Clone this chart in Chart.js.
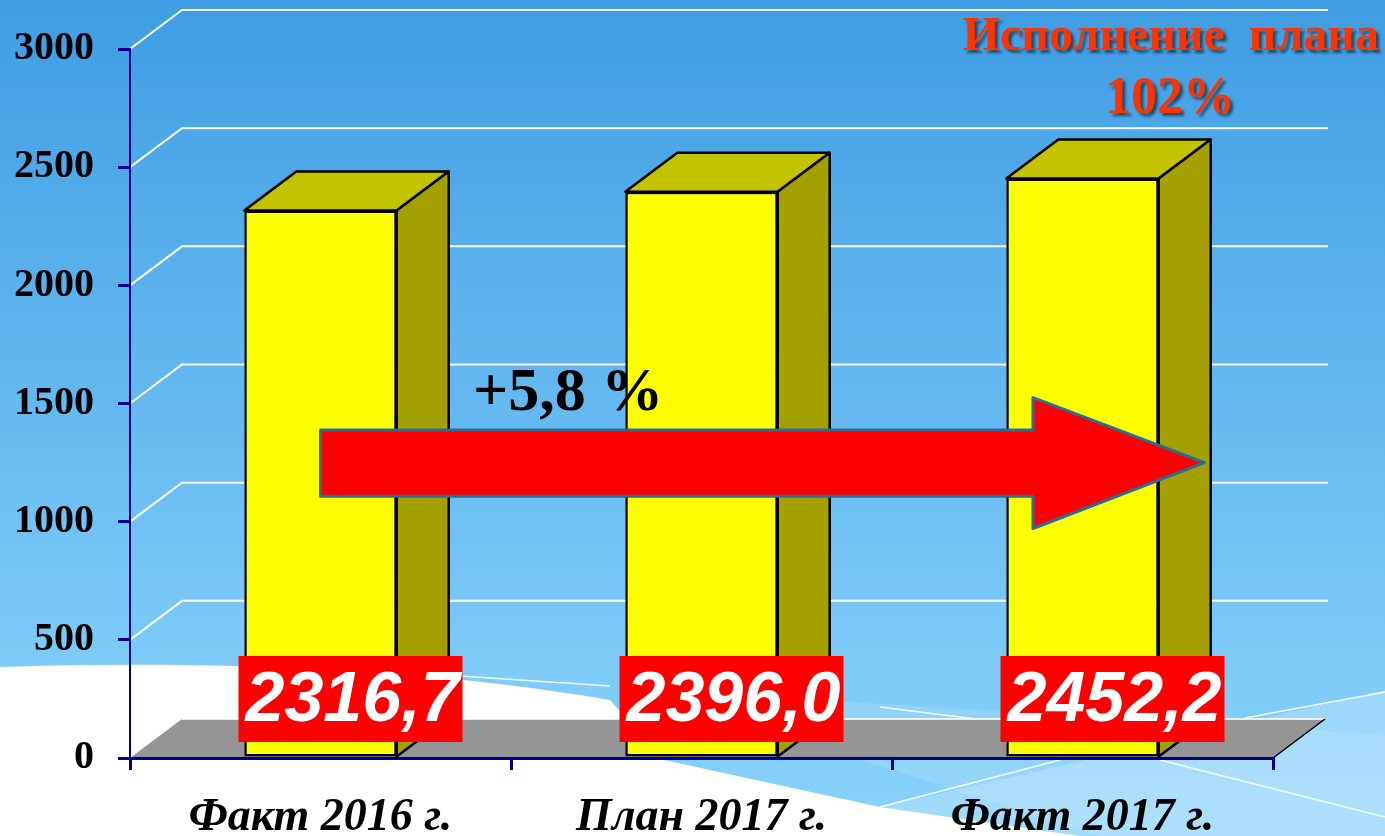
<!DOCTYPE html>
<html>
<head>
<meta charset="utf-8">
<script src="https://cdn.jsdelivr.net/npm/chart.js@4"></script>
<style>
  html, body { margin: 0; padding: 0; background: #3e9de3; }
  canvas { display: block; }
</style>
</head>
<body>
<canvas id="chart" width="1385" height="836"></canvas>
<script>
const categories = ['Факт 2016 г.', 'План 2017 г.', 'Факт 2017 г.'];
const values     = [2316.7, 2396.0, 2452.2];
const yTicks     = [0, 500, 1000, 1500, 2000, 2500, 3000];

// arrow and growth note, in chart units: [category index, value]
const arrowTail     = [0, 1248];
const arrowHeadBase = [1.87, 1248];
const arrowTip      = [2.32, 1250];
const arrowBodyHalf = 140;
const arrowHeadHalf = 277;
const growthAt      = [0.65, 1471];

const DX = 52, DY = -39;   // depth of the 3d box
const serif = "'Liberation Serif', 'Times New Roman', serif";
const sans  = "'Liberation Sans', Arial, sans-serif";

function poly(ctx, pts, fill, stroke, lw) {
  ctx.beginPath();
  pts.forEach((p, i) => i ? ctx.lineTo(p[0], p[1]) : ctx.moveTo(p[0], p[1]));
  ctx.closePath();
  if (fill) { ctx.fillStyle = fill; ctx.fill(); }
  if (stroke) { ctx.strokeStyle = stroke; ctx.lineWidth = lw || 1; ctx.stroke(); }
}

function line(ctx, pts, color, lw) {
  ctx.beginPath();
  pts.forEach((p, i) => i ? ctx.lineTo(p[0], p[1]) : ctx.moveTo(p[0], p[1]));
  ctx.strokeStyle = color;
  ctx.lineWidth = lw;
  ctx.stroke();
}

const scene = {
  id: 'scene',
  beforeDraw(chart) {
    const { ctx, width, height, scales: { x, y } } = chart;
    ctx.save();

    // slide background
    const g = ctx.createLinearGradient(0, 0, 0, height);
    g.addColorStop(0, '#3f9de3');
    g.addColorStop(0.8, '#7ecbf9');
    g.addColorStop(1, '#88d2fb');
    ctx.fillStyle = g;
    ctx.fillRect(0, 0, width, height);

    poly(ctx, [[880, 807], [1100, 757], [1385, 690], [1385, 836], [1080, 836]], 'rgba(255,255,255,0.22)');
    poly(ctx, [[640, 690], [900, 705], [1385, 735], [1385, 836], [1100, 836]], 'rgba(255,255,255,0.12)');

    ctx.beginPath();
    ctx.moveTo(0, 667);
    ctx.bezierCurveTo(200, 660, 430, 668, 610, 700);
    ctx.lineTo(664, 760);
    ctx.lineTo(880, 807);
    ctx.lineTo(1080, 836);
    ctx.lineTo(0, 836);
    ctx.closePath();
    ctx.fillStyle = '#ffffff';
    ctx.fill();

    line(ctx, [[880, 707], [1000, 722]], 'rgba(255,255,255,0.9)', 1.5);
    line(ctx, [[880, 807], [1060, 760]], 'rgba(255,255,255,0.9)', 1.5);
    line(ctx, [[1160, 760], [1385, 817]], 'rgba(255,255,255,0.9)', 1.5);
    line(ctx, [[1245, 718], [1385, 692]], 'rgba(255,255,255,0.9)', 1.5);
    line(ctx, [[460, 676], [610, 686]], 'rgba(255,255,255,0.9)', 1.5);

    // back wall grid lines
    yTicks.forEach(v => {
      if (v === 0) return;
      const py = y.getPixelForValue(v);
      line(ctx, [[x.left, py], [x.left + DX, py + DY], [x.right + DX + 3, py + DY]], '#ffffff', 2);
    });

    // floor
    const y0 = y.getPixelForValue(0);
    poly(ctx, [[x.left, y0], [x.right, y0], [x.right + DX, y0 + DY], [x.left + DX, y0 + DY]], '#959595');
    line(ctx, [[x.left + DX, y0 + DY], [x.right + DX, y0 + DY]], 'rgba(255,255,255,0.8)', 2);
    line(ctx, [[x.right, y0], [x.right + DX, y0 + DY]], '#000', 1.5);

    ctx.restore();
  },

  afterDatasetsDraw(chart) {
    const { ctx, scales: { x, y } } = chart;
    const meta = chart.getDatasetMeta(0);
    ctx.save();
    ctx.lineJoin = 'round';

    // top and side faces of the bars
    meta.data.forEach(bar => {
      const p = bar.getProps(['x', 'y', 'base', 'width'], true);
      const l = p.x - p.width / 2, r = p.x + p.width / 2;
      poly(ctx, [[l, p.y], [r, p.y], [r + DX, p.y + DY], [l + DX, p.y + DY]], '#c4c300', '#000', 2.5);
      poly(ctx, [[r, p.y], [r + DX, p.y + DY], [r + DX, p.base + DY], [r, p.base]], '#a4a000', '#000', 2.5);
    });

    // growth arrow
    const px = v => x.getPixelForValue(v);
    const py = v => y.getPixelForValue(v);
    const ay = arrowTail[1];
    poly(ctx, [
      [px(arrowTail[0]), py(ay + arrowBodyHalf)],
      [px(arrowHeadBase[0]), py(ay + arrowBodyHalf)],
      [px(arrowHeadBase[0]), py(ay + arrowHeadHalf)],
      [px(arrowTip[0]), py(arrowTip[1])],
      [px(arrowHeadBase[0]), py(ay - arrowHeadHalf)],
      [px(arrowHeadBase[0]), py(ay - arrowBodyHalf)],
      [px(arrowTail[0]), py(ay - arrowBodyHalf)]
    ], '#ff0000', '#2a6d96', 3);

    // growth note
    const growth = (values[2] / values[0] - 1) * 100;
    ctx.fillStyle = '#000';
    ctx.font = `bold 62px ${serif}`;
    ctx.textAlign = 'center';
    ctx.textBaseline = 'alphabetic';
    ctx.fillText('+' + growth.toFixed(1).replace('.', ',') + ' %', px(growthAt[0]), py(growthAt[1]));

    // value boxes
    const y0 = py(0);
    ctx.font = `italic bold 70px ${sans}`;
    ctx.textBaseline = 'middle';
    meta.data.forEach((bar, i) => {
      const cx = bar.x + 30, cy = y0 - 59;
      ctx.fillStyle = '#ff0000';
      ctx.fillRect(cx - 112, cy - 43, 224, 86);
      ctx.fillStyle = '#ffffff';
      ctx.fillText(values[i].toFixed(1).replace('.', ','), cx + 2, cy + 3);
    });

    // plan execution note
    const done = Math.round(values[2] / values[1] * 100);
    ctx.shadowColor = 'rgba(0,0,0,0.55)';
    ctx.shadowOffsetX = 3;
    ctx.shadowOffsetY = 3;
    ctx.shadowBlur = 3;
    ctx.fillStyle = '#ff3300';
    ctx.textBaseline = 'alphabetic';
    ctx.font = `bold 48px ${serif}`;
    ctx.textAlign = 'right';
    ctx.fillText('Исполнение  плана', 1379, 50);
    ctx.font = `bold 52px ${serif}`;
    ctx.textAlign = 'center';
    ctx.fillText(done + '%', 1170, 113);

    ctx.restore();
  }
};

new Chart(document.getElementById('chart'), {
  type: 'bar',
  data: {
    labels: categories,
    datasets: [{
      data: values,
      backgroundColor: '#ffff00',
      borderColor: '#000',
      borderWidth: 2.5,
      borderSkipped: false,
      categoryPercentage: 1,
      barPercentage: 0.4
    }]
  },
  options: {
    responsive: false,
    animation: false,
    devicePixelRatio: 1,
    layout: { padding: { top: 49, right: 112, bottom: 0, left: 0 } },
    plugins: { legend: { display: false }, tooltip: { enabled: false } },
    scales: {
      x: {
        offset: true,
        ticks: {
          color: '#000',
          font: { family: serif, size: 46, weight: 'bold', style: 'italic' },
          padding: 21,
          maxRotation: 0,
          autoSkip: false
        },
        grid: { offset: true, drawOnChartArea: false, tickLength: 12, color: '#000090', lineWidth: 3 },
        border: { color: '#000090', width: 3 },
        afterFit: s => { s.height = 78; }
      },
      y: {
        min: 0,
        max: 3000,
        afterBuildTicks: s => { s.ticks = yTicks.map(v => ({ value: v })); },
        ticks: {
          color: '#000',
          font: { family: serif, size: 40, weight: 'bold' },
          padding: 24,
          callback: v => String(v)
        },
        grid: { drawOnChartArea: false, tickLength: 12, color: '#000090', lineWidth: 3 },
        border: { color: '#000090', width: 2 },
        afterFit: s => { s.width = 130; }
      }
    }
  },
  plugins: [scene]
});
</script>
</body>
</html>
